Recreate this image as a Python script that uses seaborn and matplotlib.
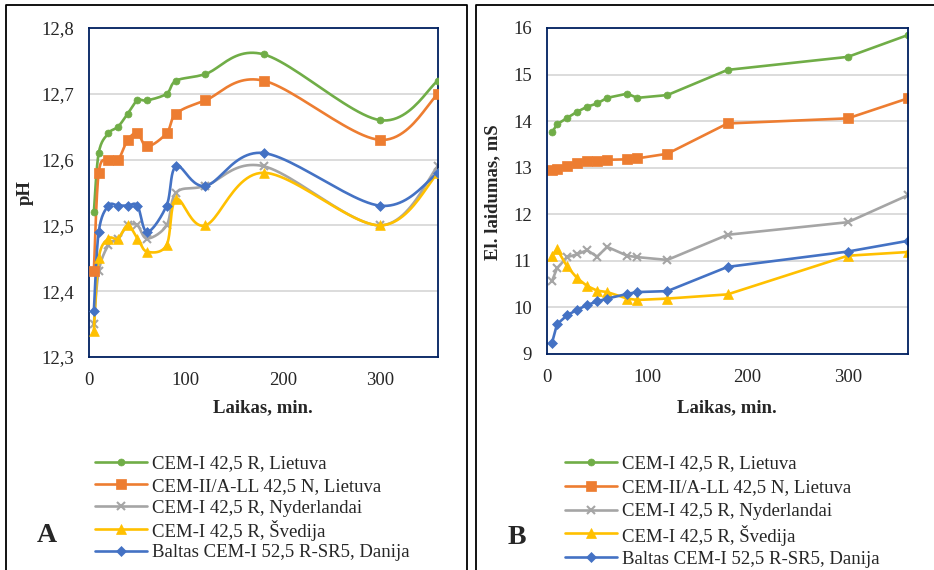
import numpy as np
import seaborn as sns
import matplotlib.pyplot as plt
from matplotlib.lines import Line2D
from matplotlib.ticker import FuncFormatter

# time points, min
laikas = [5, 10, 20, 30, 40, 50, 60, 80, 90, 120, 180, 300, 360]

labels = ['CEM-I 42,5 R, Lietuva',
          'CEM-II/A-LL 42,5 N, Lietuva',
          'CEM-I 42,5 R, Nyderlandai',
          'CEM-I 42,5 R, Švedija',
          'Baltas CEM-I 52,5 R-SR5, Danija']

# A: pH
ph_lt = [12.52, 12.61, 12.64, 12.65, 12.67, 12.69, 12.69, 12.70, 12.72, 12.73, 12.76, 12.66, 12.72]
ph_lt2 = [12.43, 12.58, 12.60, 12.60, 12.63, 12.64, 12.62, 12.64, 12.67, 12.69, 12.72, 12.63, 12.70]
ph_nl = [12.35, 12.43, 12.47, 12.48, 12.50, 12.50, 12.48, 12.50, 12.55, 12.56, 12.59, 12.50, 12.59]
ph_se = [12.34, 12.45, 12.48, 12.48, 12.50, 12.48, 12.46, 12.47, 12.54, 12.50, 12.58, 12.50, 12.58]
ph_dk = [12.37, 12.49, 12.53, 12.53, 12.53, 12.53, 12.49, 12.53, 12.59, 12.56, 12.61, 12.53, 12.58]

# B: el. laidumas, mS
el_lt = [13.76, 13.93, 14.07, 14.20, 14.31, 14.38, 14.50, 14.59, 14.50, 14.56, 15.10, 15.38, 15.85]
el_lt2 = [12.96, 12.97, 13.04, 13.10, 13.15, 13.15, 13.17, 13.18, 13.20, 13.30, 13.95, 14.06, 14.49]
el_nl = [10.57, 10.84, 11.08, 11.14, 11.23, 11.09, 11.30, 11.11, 11.08, 11.02, 11.56, 11.83, 12.41]
el_se = [11.11, 11.25, 10.88, 10.63, 10.46, 10.36, 10.33, 10.19, 10.16, 10.19, 10.28, 11.11, 11.19]
el_dk = [9.24, 9.64, 9.83, 9.95, 10.05, 10.13, 10.19, 10.29, 10.33, 10.35, 10.87, 11.20, 11.43]

colors = ['#70AD47', '#ED7D31', '#A5A5A5', '#FFC000', '#4472C4']
markers = ['o', 's', 'x', '^', 'D']
msizes = [5, 7, 6, 7, 5]


def smooth(x, y, n=25):
    # excel-like smoothed line (bezier through points)
    p = np.column_stack([x, y]).astype(float)
    p = np.vstack([p[0], p, p[-1]])
    t = np.linspace(0, 1, n)[:, None]
    out = []
    for i in range(1, len(p) - 2):
        p0, p1, p2, p3 = p[i - 1], p[i], p[i + 1], p[i + 2]
        c1 = p1 + (p2 - p0) / 6
        c2 = p2 - (p3 - p1) / 6
        out.append((1 - t) ** 3 * p1 + 3 * (1 - t) ** 2 * t * c1 + 3 * (1 - t) * t ** 2 * c2 + t ** 3 * p2)
    return np.vstack(out)


sns.set_style('white')
plt.rcParams['font.family'] = ['Liberation Serif', 'DejaVu Serif']
plt.rcParams['font.size'] = 13.5

fig = plt.figure(figsize=(9.34, 5.70), dpi=100)
W, H = 934, 570
axA = fig.add_axes([89 / W, 1 - 357 / H, (438 - 89) / W, (357 - 28) / H])
axB = fig.add_axes([547 / W, 1 - 354 / H, (908 - 547) / W, (354 - 28) / H])

for vals, c, m, ms in zip([ph_lt, ph_lt2, ph_nl, ph_se, ph_dk], colors, markers, msizes):
    s = smooth(laikas, vals)
    sns.lineplot(x=s[:, 0], y=s[:, 1], sort=False, estimator=None, ax=axA, color=c, linewidth=1.9)
    if m == 'x':
        axA.plot(laikas, vals, linestyle='none', marker=m, color=c, markersize=ms, markeredgewidth=1.5)
    else:
        sns.scatterplot(x=laikas, y=vals, ax=axA, marker=m, color=c, s=ms ** 2, edgecolor=c, linewidth=0.5, zorder=3)

for vals, c, m, ms in zip([el_lt, el_lt2, el_nl, el_se, el_dk], colors, markers, msizes):
    sns.lineplot(x=laikas, y=vals, ax=axB, color=c, linewidth=1.9, marker=m, markersize=ms,
                 markeredgecolor=c, markeredgewidth=1.5 if m == 'x' else 0.5)

fmt = FuncFormatter(lambda v, _: f'{v:.1f}'.replace('.', ','))
for ax, lo, hi, step in [(axA, 12.3, 12.8, 0.1), (axB, 9, 16, 1)]:
    ax.set_xlim(0, 360)
    ax.set_ylim(lo, hi)
    ax.set_xticks([0, 100, 200, 300])
    ax.set_yticks(np.arange(lo, hi + step / 2, step))
    ax.grid(axis='y', color='#d9d9d9', linewidth=1.3)
    ax.set_axisbelow(True)
    ax.tick_params(length=0, pad=11, labelsize=13.5)
    for sp in ax.spines.values():
        sp.set_color('#002060')
        sp.set_linewidth(1.3)
    ax.set_xlabel('')
    ax.set_ylabel('')
axA.yaxis.set_major_formatter(fmt)

fig.text(25 / W, 1 - 193 / H, 'pH', rotation=90, ha='center', va='center', fontsize=13.5, fontweight='bold')
fig.text(493 / W, 1 - 192 / H, 'El. laidumas, mS', rotation=90, ha='center', va='center', fontsize=13.5, fontweight='bold')
fig.text(263 / W, 1 - 408 / H, 'Laikas, min.', ha='center', va='center', fontsize=13.5, fontweight='bold')
fig.text(727 / W, 1 - 408 / H, 'Laikas, min.', ha='center', va='center', fontsize=13.5, fontweight='bold')
fig.text(47 / W, 1 - 536 / H, 'A', ha='center', va='center', fontsize=20, fontweight='bold')
fig.text(517 / W, 1 - 537 / H, 'B', ha='center', va='center', fontsize=20, fontweight='bold')

# legends drawn row by row so spacing stays even
for x0, y0, dy in [(95, 462, 22.2), (565, 462, 23.8)]:
    for i, (lab, c, m, ms) in enumerate(zip(labels, colors, markers, msizes)):
        y = 1 - (y0 + i * dy) / H
        fig.add_artist(Line2D([x0 / W, (x0 + 52) / W], [y, y], color=c, linewidth=1.9))
        fig.add_artist(Line2D([(x0 + 26) / W], [y], color=c, marker=m, markersize=ms, markeredgecolor=c,
                              markeredgewidth=1.5 if m == 'x' else 0.5, linestyle='none'))
        fig.text((x0 + 57) / W, y, lab, ha='left', va='center_baseline', fontsize=13.5)

# panel frames
for xs, ys in [([6, 6, 467, 467], [570, 5, 5, 570]), ([476, 476, 934], [570, 5, 5])]:
    fig.add_artist(Line2D(np.array(xs) / W, 1 - np.array(ys) / H, color='black', linewidth=1.3))

fig.savefig('out.png', dpi=100)
